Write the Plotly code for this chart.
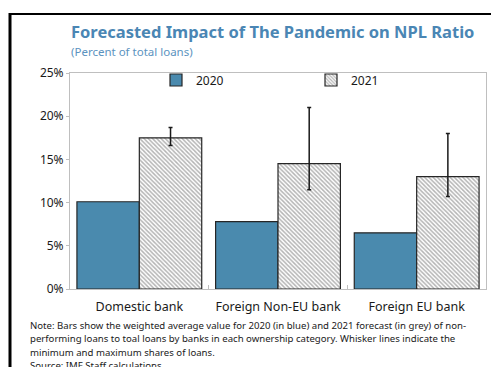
import plotly.graph_objects as go

categories = ["Domestic bank", "Foreign Non-EU bank", "Foreign EU bank"]
npl_2020 = [10.1, 7.8, 6.5]
npl_2021 = [17.5, 14.5, 13.0]
max_2021 = [18.7, 21.0, 18.0]
min_2021 = [16.6, 11.5, 10.7]
y_ticks = [0, 5, 10, 15, 20, 25]
y_tick_labels = ["0%", "5%", "10%", "15%", "20%", "25%"]

title = "Forecasted Impact of The Pandemic on NPL Ratio"
subtitle = "(Percent of total loans)"
note_lines = [
    "Note: Bars show the weighted average value for 2020 (in blue) and 2021 forecast (in grey) of non-",
    "performing loans to toal loans by banks in each ownership category. Whisker lines indicate the",
    "minimum and maximum shares of loans.",
    "Source: IMF Staff calculations",
]

# the page body has an 8px margin; work in window pixels and offset
OFF = 8
W, H = 499 - OFF, 367 - OFF
PLOT_L, PLOT_R, PLOT_T, PLOT_B = 70, 486, 73, 289  # window pixels
ML, MR, MT, MB = PLOT_L - OFF, W - (PLOT_R - OFF), PLOT_T - OFF, H - (PLOT_B - OFF)
PW, PH = W - ML - MR, H - MT - MB

def px(x):
    return (x - OFF - ML) / PW

def py(y):
    return (H - MB - (y - OFF)) / PH

FONT = "Noto Sans"
BLUE = "#4A8AAE"

fig = go.Figure()
fig.add_trace(go.Bar(
    x=categories, y=npl_2020, name="2020",
    marker=dict(color=BLUE, line=dict(color="#262626", width=1.2)),
))
fig.add_trace(go.Bar(
    x=categories, y=npl_2021, name="2021",
    marker=dict(color="white", line=dict(color="#262626", width=1.2),
                pattern=dict(shape="\\", fgcolor="#6a6a6a", bgcolor="white", size=3, solidity=0.5)),
    error_y=dict(type="data", symmetric=False,
                 array=[a - b for a, b in zip(max_2021, npl_2021)],
                 arrayminus=[b - a for a, b in zip(min_2021, npl_2021)],
                 color="#1a1a1a", thickness=1.5, width=2),
))

fig.update_layout(
    width=W, height=H,
    margin=dict(l=ML, r=MR, t=MT, b=MB, autoexpand=False),
    paper_bgcolor="white", plot_bgcolor="white",
    barmode="group", bargap=0.1, bargroupgap=0,
    font=dict(family=FONT, size=12, color="#1a1a1a"),
    showlegend=True,
    legend=dict(orientation="h", x=px(156), y=py(80), xanchor="left", yanchor="middle",
                bgcolor="rgba(0,0,0,0)", font=dict(size=12, color="#1a1a1a"),
                itemwidth=30, entrywidth=110, entrywidthmode="pixels",
                traceorder="normal"),
    xaxis=dict(showline=True, linecolor="#bfbfbf", linewidth=1, mirror=True,
               ticks="inside", tickson="boundaries", ticklen=4, tickcolor="#bfbfbf",
               tickangle=0, automargin=False, ticklabelstandoff=6,
               tickfont=dict(size=12.5, color="#1a1a1a"), showgrid=False),
    yaxis=dict(range=[0, 25], tickvals=y_ticks, ticktext=y_tick_labels,
               showline=True, linecolor="#bfbfbf", linewidth=1, mirror=True,
               ticks="outside", ticklen=3, tickcolor="#bfbfbf", automargin=False,
               tickfont=dict(size=12, color="#1a1a1a"), showgrid=False, zeroline=False),
)

fig.add_annotation(text=f"<b>{title}</b>", xref="paper", yref="paper",
                   x=px(69), y=py(32), xanchor="left", yanchor="middle", showarrow=False,
                   font=dict(family=FONT, size=16.5, color="#4A86B4"))
fig.add_annotation(text=subtitle, xref="paper", yref="paper",
                   x=px(69), y=py(51), xanchor="left", yanchor="middle", showarrow=False,
                   font=dict(family=FONT, size=11.5, color="#5B93C0"))
for i, line in enumerate(note_lines):
    fig.add_annotation(text=line, xref="paper", yref="paper",
                       x=px(28), y=py(325 + 13.5 * i), xanchor="left", yanchor="middle",
                       showarrow=False, align="left",
                       font=dict(family=FONT, size=9.6, color="#1a1a1a"))
fig.add_annotation(text="<b>Category</b>", xref="paper", yref="paper",
                   x=px(300), y=py(-2), xanchor="center", yanchor="bottom", showarrow=False,
                   font=dict(family=FONT, size=18, color="#111111"))

# outer frame lines
fig.add_shape(type="line", xref="paper", yref="paper", x0=px(10), x1=px(510), y0=py(14), y1=py(14),
              line=dict(color="black", width=2))
fig.add_shape(type="line", xref="paper", yref="paper", x0=px(10), x1=px(10), y0=py(13), y1=py(380),
              line=dict(color="black", width=3))

fig.write_html("out.html")
